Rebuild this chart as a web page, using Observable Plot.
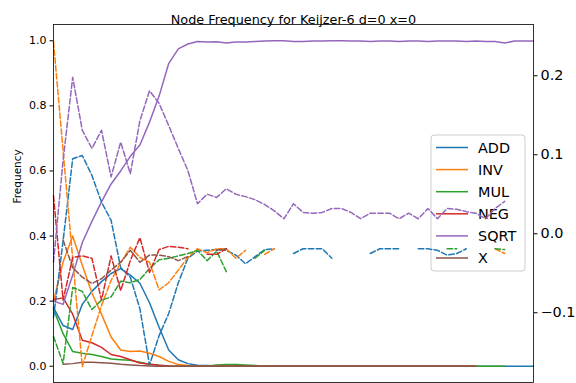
<!DOCTYPE html>
<html><head><meta charset="utf-8">
<script src="https://cdn.jsdelivr.net/npm/d3@7"></script>
<script src="https://cdn.jsdelivr.net/npm/@observablehq/plot@0.6"></script>
<style>
body{margin:0;background:#fff;}
svg{font-family:"DejaVu Sans",sans-serif;}
</style>
</head><body><div id="chart"></div>
<script>
const chartTitle = "Node Frequency for Keijzer-6 d=0 x=0";
const yLabel = "Frequency";
const seriesNames = ["ADD","INV","MUL","NEG","SQRT","X"];
const seriesColors = ["#1f77b4","#ff7f0e","#2ca02c","#d62728","#9467bd","#8c564b"];
const generations = d3.range(51);

// Frequencies (left axis, solid)
const freqADD = [0.18,0.125,0.113,0.19,0.23,0.26,0.285,0.30,0.28,0.255, 0.195,0.12,0.05,0.02,0.008,0.003,0.002,0.001,0.001,0.001, 0,0,0,0,0,0,0,0,0,0, 0,0,0,0,0,0,0,0,0,0, 0,0,0,0,0,0,0,0,0,0, 0];
const freqINV = [0.2,0.32,0.40,0.31,0.225,0.16,0.09,0.05,0.045,0.047, 0.04,0.03,0.015,0.005,0.002,0.001,0,0,0,0, 0,0,0,0,0,0,0,0,0,0, 0,0,0,0,0,0,0,0,0,0, 0,0,0,0,0,null,null,null,null,null, null];
const freqMUL = [0.175,0.10,0.045,0.04,0.036,0.03,0.022,0.02,0.018,0.012, 0.006,0.003,0.001,0,0,0,0,0.004,0.005,0.005, 0.004,0.002,0,0,0,0,0,0,0,0, 0,0,0,0,0,0,0,0,0,0, 0,0,0,0,0,0,0,0,null,null, null];
const freqNEG = [0.205,0.21,0.16,0.08,0.072,0.058,0.036,0.03,0.02,0.01, 0.006,0.003,0.001,0,0,0,0,0,0,0, 0,0,0,0,0,0,0,0,0,0, 0,0,0,0,0,0,0,0,0,0, 0,0,0,0,0,null,null,null,null,null, null];
const freqSQRT = [0.2,0.19,0.28,0.38,0.445,0.505,0.56,0.60,0.645,0.68, 0.75,0.83,0.93,0.975,0.99,0.998,0.996,0.997,0.993,0.996, 0.996,0.998,0.999,1.0,1.0,0.998,0.998,0.999,0.999,1.0, 1.0,0.999,0.999,0.998,0.999,0.999,0.998,0.999,0.999,0.998, 0.999,0.999,0.999,0.998,0.999,0.998,0.998,0.993,0.999,0.999, 0.999];
const freqX = [null,0.006,0.008,0.012,0.0125,0.011,0.009,0.006,0.004,0.002, 0.001,0,0,0,0,0,0,0,0,0, 0,0,0,0,0,0,0,0,0,0, 0,0,0,0,0,0,0,0,0,0, 0,0,0,0,0,null,null,null,null,null, null];

// Right-axis values (dashed)
const corrADD = [-0.106,-0.009,0.095,0.099,0.074,0.040,0.017,-0.043,-0.055,-0.095, -0.166,-0.129,-0.101,-0.062,-0.031,-0.022,-0.021,-0.020,-0.021,-0.027, -0.038,-0.029,-0.020,-0.019,null,-0.025,-0.019,-0.019,-0.019,-0.031, null,null,null,-0.025,-0.019,-0.019,-0.019,null,-0.019,-0.019, -0.021,-0.027,-0.025,-0.019,null,null,null,null,null,null, null];
const corrINV = [0.243,0.105,-0.032,-0.168,-0.129,-0.091,-0.059,-0.037,-0.017,-0.030, -0.036,-0.071,-0.062,-0.046,-0.030,-0.019,-0.024,-0.019,-0.019,-0.031, -0.021,null,-0.026,-0.019,null,null,null,null,null,null, null,null,null,null,null,null,null,null,null,null, null,null,null,null,null,null,-0.019,-0.025,null,null, null];
const corrMUL = [-0.130,-0.164,-0.068,-0.073,-0.096,-0.084,-0.080,-0.060,-0.062,-0.058, -0.044,-0.033,-0.031,-0.028,-0.025,-0.021,-0.034,-0.022,-0.048,null, null,-0.031,-0.021,null,null,null,null,null,null,null, null,null,null,null,null,null,null,null,null,null, null,-0.019,-0.019,null,null,null,-0.019,-0.020,null,null, null];
const corrNEG = [0.048,-0.084,-0.030,-0.028,-0.031,-0.084,-0.028,-0.072,-0.034,-0.005, -0.049,-0.020,-0.016,-0.017,-0.019,null,-0.026,-0.026,-0.019,null, null,null,null,null,null,null,null,null,null,null, null,null,null,null,null,null,null,null,null,null, null,null,null,null,null,null,null,null,null,null, null];
const corrSQRT = [-0.036,0.093,0.198,0.131,0.108,0.131,0.072,0.116,0.076,0.143, 0.181,0.165,0.137,0.108,0.080,0.038,0.050,0.046,0.057,0.050, 0.047,0.043,0.037,0.029,0.019,0.038,0.027,0.026,0.027,0.032, 0.032,0.027,0.019,0.026,0.026,0.026,0.019,0.026,0.019,0.032, 0.019,0.032,0.031,0.028,0.026,0.019,0.032,0.041,null,null, null];
const corrX = [null,-0.008,-0.043,-0.055,-0.063,-0.057,-0.046,-0.036,-0.021,-0.036, -0.027,-0.027,-0.029,-0.034,-0.029,null,null,-0.021,-0.019,null, null,null,null,null,null,null,null,null,null,null, null,null,null,null,null,null,null,null,null,null, null,null,null,null,null,null,null,null,null,null, null];

const leftTicks = [0, 0.2, 0.4, 0.6, 0.8, 1.0];
const rightTicks = [-0.1, 0.0, 0.1, 0.2];
const leftDomain = [-0.05, 1.05];
const rightDomain = [-0.1883, 0.2649];

const freqSeries = [freqADD, freqINV, freqMUL, freqNEG, freqSQRT, freqX];
const corrSeries = [corrADD, corrINV, corrMUL, corrNEG, corrSQRT, corrX];

const toLeft = r => leftDomain[0] + (r - rightDomain[0]) / (rightDomain[1] - rightDomain[0]) * (leftDomain[1] - leftDomain[0]);
const fromLeft = l => rightDomain[0] + (l - leftDomain[0]) / (leftDomain[1] - leftDomain[0]) * (rightDomain[1] - rightDomain[0]);
const fmtTick = v => { const r = Math.round(v * 10) / 10; return (r < 0 ? "\u2212" : "") + Math.abs(r).toFixed(1); };

const freqRows = [], corrRows = [];
seriesNames.forEach((s, k) => {
  generations.forEach((g, i) => {
    const f = freqSeries[k][i], c = corrSeries[k][i];
    freqRows.push({gen: g, series: s, value: f == null ? NaN : f});
    corrRows.push({gen: g, series: s, value: c == null ? NaN : toLeft(c)});
  });
});

const plot = Plot.plot({
  width: 576, height: 383,
  marginLeft: 53, marginRight: 43, marginTop: 24, marginBottom: 1,
  style: {fontFamily: "DejaVu Sans, sans-serif", fontSize: "10px", background: "white", color: "black"},
  x: {domain: [0, 50], axis: null},
  y: {domain: leftDomain},
  color: {domain: seriesNames, range: seriesColors},
  marks: [
    Plot.line(freqRows, {x: "gen", y: "value", z: "series", stroke: "series", strokeWidth: 1.5, curve: "linear"}),
    Plot.line(corrRows, {x: "gen", y: "value", z: "series", stroke: "series", strokeWidth: 1.5, strokeDasharray: "5.55,2.4", curve: "linear"}),
    Plot.frame({stroke: "black", strokeWidth: 0.8}),
    Plot.axisY(leftTicks, {anchor: "left", tickSize: 3.5, tickPadding: 3.5, fontSize: 11, label: null, tickFormat: d => d.toFixed(1)}),
    Plot.axisY(rightTicks.map(toLeft), {anchor: "right", tickSize: 3.5, tickPadding: 3.5, fontSize: 14.4, label: null, tickFormat: d => fmtTick(fromLeft(d))}),
    Plot.text([chartTitle], {frameAnchor: "top", dy: -10, fontSize: 12.8, text: d => d}),
    Plot.text([yLabel], {frameAnchor: "left", dx: -36, rotate: -90, fontSize: 10.5, text: d => d})
  ]
});
document.getElementById("chart").appendChild(plot);

// Legend (drawn on the first axes, below the dashed right-axis lines)
const lineGroups = plot.querySelectorAll('g[aria-label="line"]');
const legend = d3.create("svg:g").attr("aria-label", "legend").attr("text-anchor", "start");
const lx = 431, ly = 135, lw = 94, lh = 136, rowH = 22.1;
legend.append("rect").attr("x", lx).attr("y", ly).attr("width", lw).attr("height", lh)
  .attr("rx", 3).attr("fill", "white").attr("fill-opacity", 0.8).attr("stroke", "#cccccc").attr("stroke-width", 1);
seriesNames.forEach((s, k) => {
  const y = ly + 12.5 + k * rowH;
  legend.append("line").attr("x1", lx + 5).attr("x2", lx + 37).attr("y1", y).attr("y2", y)
    .attr("stroke", seriesColors[k]).attr("stroke-width", 1.5);
  legend.append("text").attr("x", lx + 47).attr("y", y).attr("dy", "0.36em")
    .attr("font-size", 14.4).attr("fill", "black").text(s);
});
plot.insertBefore(legend.node(), lineGroups[1]);
</script>
</body></html>
